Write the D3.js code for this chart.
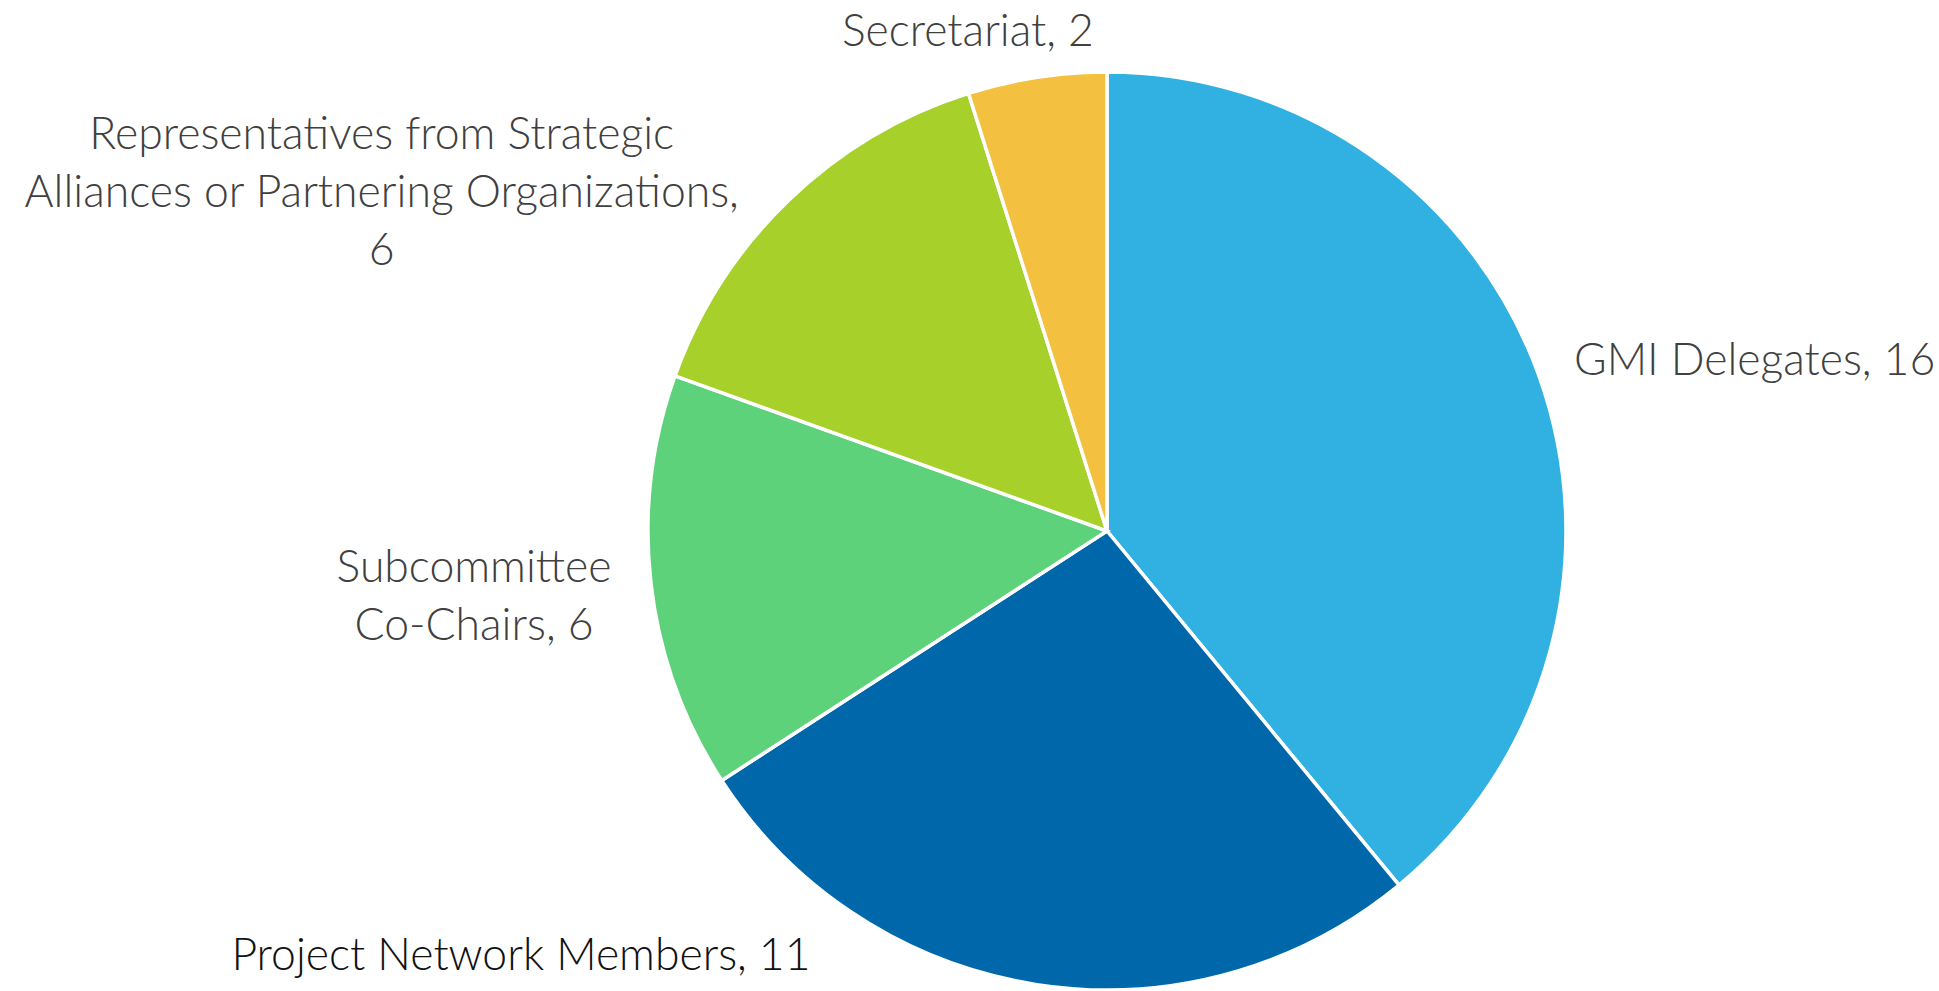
<!DOCTYPE html>
<head>
  <meta charset="utf-8">
  <script src="https://d3js.org/d3.v7.min.js"></script>
  <style type="text/css">
    body { margin:0; background:#fff; overflow:hidden; }
    .slice { stroke:#fff; stroke-width:3.5; }
    .label { font-family:"Lato", "Open Sans", sans-serif; font-weight:300; font-size:44.5px; fill:#404040; }
  </style>
</head>
<body>
  <script>
  // data
  var categories = ["GMI Delegates", "Project Network Members", "Subcommittee Co-Chairs",
                    "Representatives from Strategic Alliances or Partnering Organizations", "Secretariat"];
  var values = [16, 11, 6, 6, 2];
  // label lines as Excel wrapped them
  var labelLines = [
    ["GMI Delegates, 16"],
    ["Project Network Members, 11"],
    ["Subcommittee", "Co-Chairs, 6"],
    ["Representatives from Strategic", "Alliances or Partnering Organizations,", "6"],
    ["Secretariat, 2"]
  ];
  var colors = ["#31b0e2", "#0068aa", "#5ed17b", "#a7d12a", "#f4c040"];

  // label placement relative to the outer arc point of each slice
  var labelLayout = [
    {anchor:"start",  dx:35,   dy:-16},
    {anchor:"middle", dx:-516, dy:-30},
    {anchor:"middle", dx:-177, dy:12},
    {anchor:"middle", dx:-407, dy:-9},
    {anchor:"middle", dx:-69,  dy:-47}
  ];
  var labelFill = ["#404040", "#111", "#404040", "#404040", "#404040"];

  var width = 1939, height = 991;
  var cx = 1107, cy = 531, radius = 459, lineH = 58;

  var svg = d3.select("body").append("svg")
    .attr("width", width)
    .attr("height", height);

  var g = svg.append("g").attr("transform", "translate(" + cx + "," + cy + ")");

  var pie = d3.pie().sort(null).value(function(d) { return d; });
  var arcs = pie(values);
  var arc = d3.arc().innerRadius(0).outerRadius(radius);

  g.selectAll(".slice")
    .data(arcs)
    .enter().append("path")
    .attr("class", "slice")
    .attr("fill", function(d, i) { return colors[i]; })
    .attr("d", arc);

  arcs.forEach(function(d, i) {
    var mid = (d.startAngle + d.endAngle) / 2;
    var px = radius * Math.sin(mid), py = -radius * Math.cos(mid);
    var lay = labelLayout[i];
    var lines = labelLines[i];
    var top = py + lay.dy - (lines.length - 1) * lineH / 2;
    var t = g.append("text")
      .attr("class", "label")
      .attr("text-anchor", lay.anchor)
      .style("fill", labelFill[i]);
    lines.forEach(function(s, j) {
      t.append("tspan")
        .attr("x", px + lay.dx)
        .attr("y", top + j * lineH)
        .attr("dy", "0.35em")
        .text(s);
    });
  });
  </script>
</body>
